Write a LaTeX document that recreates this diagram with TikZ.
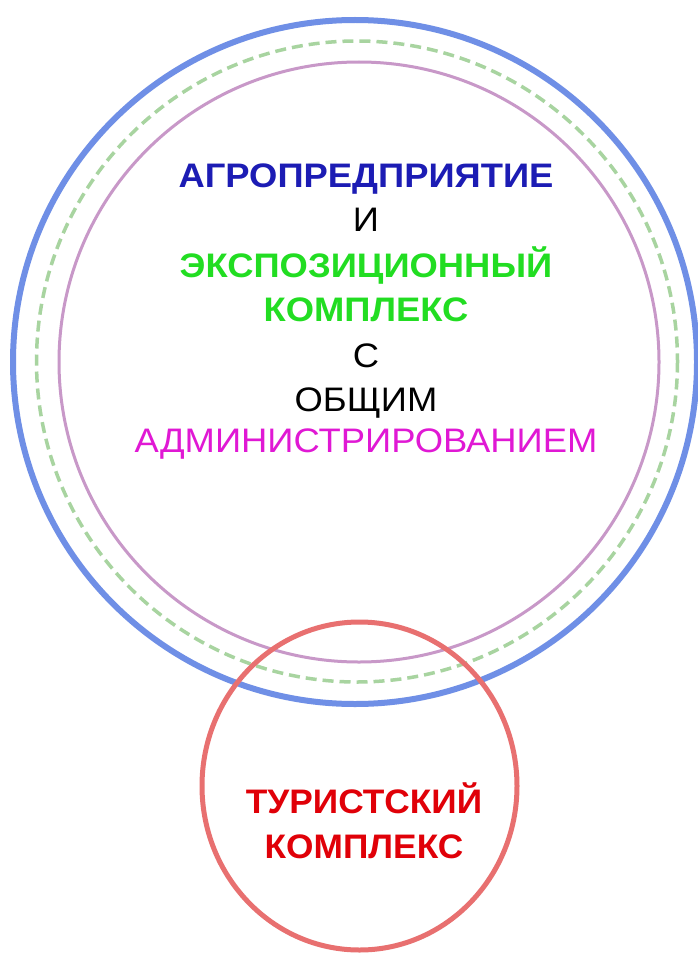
\documentclass[tikz,border=0pt]{standalone}
\usepackage{fontspec}
\setmainfont{Liberation Sans}
\definecolor{ringblue}{HTML}{6F8FE6}
\definecolor{ringgreen}{HTML}{A8D4A0}
\definecolor{ringpurple}{HTML}{C898C8}
\definecolor{ringred}{HTML}{E87070}
\definecolor{txtnavy}{HTML}{1C1CB4}
\definecolor{txtgreen}{HTML}{22DD22}
\definecolor{txtmag}{HTML}{E018D4}
\definecolor{txtred}{HTML}{E00008}
\begin{document}
\begin{tikzpicture}[x=1pt,y=-1pt,
  lbl/.style={inner sep=0pt,anchor=base,xscale=1.07,font=\fontsize{34}{34}\selectfont},
  bld/.style={inner sep=0pt,anchor=base,xscale=1.07,font=\fontsize{34}{34}\selectfont\bfseries},
  rbld/.style={bld,xscale=0.97,text=txtred}]
\useasboundingbox (0,0) rectangle (697,955);
\fill[white] (0,0) rectangle (697,955);
\draw[ringblue,line width=6pt] (355,362) circle[radius=342];
\draw[ringgreen,line width=3.5pt,dash pattern=on 11pt off 6pt] (357,361.5) circle[radius=320.5];
\draw[ringpurple,line width=3pt] (359,362) circle[radius=300];
\draw[ringred,line width=5pt] (359.5,786) ellipse[x radius=157.5,y radius=164];
\node[bld,text=txtnavy] (agro) at (366,187) {АГРОПРЕДПРИЯТИЕ};
\node[lbl] (i) at (366,231) {И};
\node[bld,text=txtgreen] (exp) at (366,277) {ЭКСПОЗИЦИОННЫЙ};
\node[bld,text=txtgreen] (kompl) at (366,321) {КОМПЛЕКС};
\node[lbl] (s) at (366,367) {С};
\node[lbl] (obsh) at (366,411) {ОБЩИМ};
\node[lbl,text=txtmag] (adm) at (366,452) {АДМИНИСТРИРОВАНИЕМ};
\node[rbld] (tur) at (364,813) {ТУРИСТСКИЙ};
\node[rbld] (tkompl) at (364,858) {КОМПЛЕКС};
\end{tikzpicture}
\end{document}
